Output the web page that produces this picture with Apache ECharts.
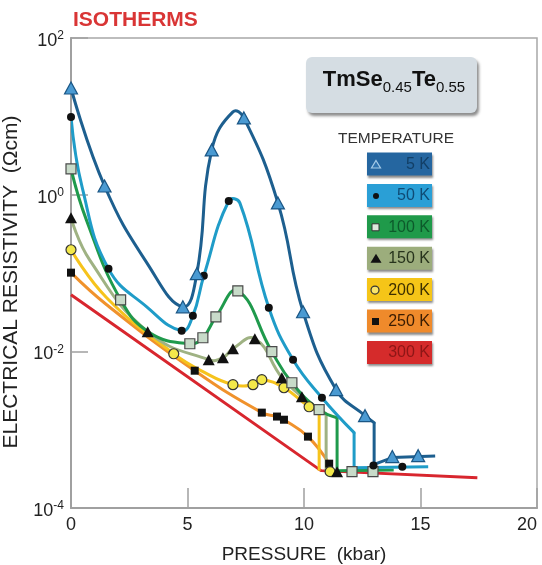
<!DOCTYPE html>
<html><head><meta charset="utf-8">
<script src="https://cdn.jsdelivr.net/npm/echarts@6/dist/echarts.min.js"></script>
<style>html,body{margin:0;padding:0;background:#fff}#c{width:542px;height:565px}</style>
</head><body><div id="c"></div>
<script>
// ---------- data (pressure kbar, resistivity ohm-cm) ----------
const temperatures = ['5 K', '50 K', '100 K', '150 K', '200 K', '250 K', '300 K'];
const xTicks = [0, 5, 10, 15, 20];
const yTicks = [1e-4, 1e-2, 1, 100];

const curve5K = [[0,23.0],[1.44,1.29],[3.29,0.13],[4.80,0.037],[5.40,0.098],[6.04,3.73],[6.95,11.4],[7.42,9.55],[8.88,0.785],[9.96,0.032],[11.38,0.00324],[12.62,0.00151],[13.01,0.00123]];
const step5K = [[13.01,0.00123],[13.01,0.00036],[13.79,0.00044],[15.63,0.00046]];
const marks5K = [[0,23.0],[1.44,1.29],[4.80,0.037],[5.40,0.098],[6.04,3.73],[7.42,9.55],[8.88,0.785],[9.96,0.032],[11.38,0.00324],[12.62,0.00151],[13.79,0.000453],[14.9,0.000466]];

const curve50K = [[0,9.8],[0.49,1.2],[1.61,0.113],[3.25,0.037],[4.75,0.0183],[5.23,0.0284],[5.70,0.092],[6.77,0.83],[7.25,0.78],[8.49,0.036],[9.53,0.00781],[10.77,0.00256],[12.15,0.000916]];
const step50K = [[12.15,0.000916],[12.15,0.000327],[15.33,0.000337]];
const marks50K = [[0,9.8],[1.61,0.113],[4.75,0.0183],[5.23,0.0284],[5.70,0.092],[6.77,0.83],[8.49,0.036],[9.53,0.00781],[10.77,0.00256],[12.98,0.00035],[14.22,0.000337]];

const curve100K = [[0,2.13],[0.66,0.477],[2.13,0.0455],[3.38,0.0173],[5.10,0.0125],[5.66,0.0149],[6.22,0.0276],[7.16,0.0593],[8.62,0.00989],[9.48,0.00397],[10.65,0.0018],[11.42,0.00142]];
const step100K = [[11.42,0.00142],[11.42,0.0003],[13.85,0.000305]];
const marks100K = [[0,2.13],[2.13,0.0455],[5.10,0.0125],[5.66,0.0149],[6.22,0.0276],[7.16,0.0593],[8.62,0.00989],[9.48,0.00397],[10.65,0.0018],[12.06,0.000291],[12.96,0.000291]];

const curve150K = [[0,0.506],[0.8,0.147],[3.29,0.0178],[5.91,0.00781],[6.52,0.00828],[6.95,0.0108],[7.89,0.0145],[9.05,0.00461],[9.91,0.00264],[10.95,0.0016]];
const step150K = [[10.95,0.0016],[10.95,0.0003]];
const marks150K = [[0,0.506],[3.29,0.0178],[5.91,0.00781],[6.52,0.00828],[6.95,0.0108],[7.89,0.0145],[9.05,0.00461],[9.91,0.00264],[11.42,0.000291]];

const curve200K = [[0,0.198],[1.53,0.0483],[4.41,0.00931],[5.66,0.0055],[6.95,0.00375],[7.81,0.00375],[8.19,0.00435],[9.14,0.00343],[10.22,0.00196],[10.65,0.0017]];
const step200K = [[10.65,0.0017],[10.65,0.0003]];
const marks200K = [[0,0.198],[4.41,0.00931],[6.95,0.00375],[7.81,0.00375],[8.19,0.00435],[9.14,0.00343],[10.22,0.00196],[11.12,0.000291]];

const curve250K = [[0,0.101],[1.53,0.0393],[5.31,0.00566],[8.19,0.00165],[8.84,0.00147],[9.14,0.00134],[10.17,0.000815],[11.08,0.000368]];
const step250K = [[11.08,0.000368],[11.2,0.0003]];
const marks250K = [[0,0.101],[5.31,0.00566],[8.19,0.00165],[8.84,0.00147],[9.14,0.00134],[10.17,0.000815],[11.08,0.000368]];

const line300K = [[0,0.0527],[10.73,0.0003],[17.44,0.000244]];

// ---------- styles ----------
const FONT = 'Liberation Sans, Arial, sans-serif';
const lineColors = ['#1d5f8f', '#1f9cc8', '#1f9a4c', '#9fb283', '#f6c31c', '#f0922c', '#d8262e'];
const boxColors  = ['#2566a0', '#2a9fd6', '#1f9a4a', '#9cad7c', '#f5c518', '#ef8a2b', '#d52b2b'];
const boxText    = ['#123f66', '#0f4b75', '#0d5a2b', '#27331c', '#3e3000', '#3a1c02', '#8e1616'];
const markStyle = [
  {symbol: 'triangle', size: [13, 12], fill: '#4a9ad2', border: '#1a5685', bw: 1.2},
  {symbol: 'circle', size: 8, fill: '#111', border: '#111', bw: 0},
  {symbol: 'rect', size: 10, fill: '#c8dbc9', border: '#4a4a4a', bw: 1.2},
  {symbol: 'triangle', size: [12, 11], fill: '#111', border: '#111', bw: 0},
  {symbol: 'circle', size: 10, fill: '#f3e84a', border: '#333', bw: 1.2},
  {symbol: 'rect', size: 8, fill: '#111', border: '#111', bw: 0}
];

const curves = [curve5K, curve50K, curve100K, curve150K, curve200K, curve250K];
const steps  = [step5K, step50K, step100K, step150K, step200K, step250K];
const marks  = [marks5K, marks50K, marks100K, marks150K, marks200K, marks250K];

// smooth curve through the read points, positioned with the chart's own scales (api.coord)
function curveSeries(name, data, color, z) {
  return {
    type: 'custom', name: name, data: data, z: z, silent: true, clip: true,
    encode: {x: 0, y: 1},
    renderItem: function (params, api) {
      if (params.dataIndex !== 0) return null;
      const pts = data.map(p => api.coord(p));
      return {type: 'polyline', shape: {points: pts, smooth: 0.45},
        style: {stroke: color, lineWidth: 3, fill: null, lineJoin: 'round', lineCap: 'round'}};
    }
  };
}

const series = [];
series.push({type: 'line', name: temperatures[6], data: line300K, showSymbol: false, smooth: false,
  lineStyle: {color: lineColors[6], width: 3}, z: 1, silent: true});
for (let i = 5; i >= 0; i--) {
  series.push(curveSeries(temperatures[i], curves[i], lineColors[i], 2 + (6 - i)));
  series.push({type: 'line', name: temperatures[i] + ' step', data: steps[i], showSymbol: false, smooth: false,
    lineStyle: {color: lineColors[i], width: 3, join: 'round'}, z: 2 + (6 - i), silent: true});
}
for (let i = 5; i >= 0; i--) {
  const m = markStyle[i];
  series.push({type: 'scatter', name: temperatures[i] + ' pts', data: marks[i], symbol: m.symbol, symbolSize: m.size,
    itemStyle: {color: m.fill, borderColor: m.border, borderWidth: m.bw, opacity: 1}, z: 20, silent: true});
}

// ---------- legend / annotation graphics ----------
const graphics = [];
graphics.push({type: 'rect', shape: {x: 306, y: 57, width: 171, height: 56, r: 6},
  style: {fill: '#d5dde3', shadowColor: 'rgba(0,0,0,0.45)', shadowBlur: 3, shadowOffsetX: 2, shadowOffsetY: 3}});
graphics.push({type: 'text', x: 394, y: 80, style: {
  text: '{b|TmSe}{s|0.45}{b|Te}{s|0.55}', align: 'center', verticalAlign: 'middle', fill: '#111',
  rich: {b: {fontSize: 22, fontWeight: 'bold', fontFamily: FONT, lineHeight: 30, fill: '#111'},
         s: {fontSize: 15, fontFamily: FONT, lineHeight: 10, verticalAlign: 'bottom', fill: '#111'}}}});
graphics.push({type: 'text', x: 396, y: 139, style: {text: 'TEMPERATURE', align: 'center', verticalAlign: 'middle',
  fontSize: 15.5, fontFamily: FONT, fill: '#333'}});

for (let i = 0; i < 7; i++) {
  const top = 152.5 + i * 31.4;
  graphics.push({type: 'rect', shape: {x: 367, y: top, width: 65, height: 23},
    style: {fill: boxColors[i], shadowColor: 'rgba(0,0,0,0.45)', shadowBlur: 2, shadowOffsetX: 1, shadowOffsetY: 2}});
  graphics.push({type: 'text', x: 430, y: top + 12, style: {text: temperatures[i], align: 'right', verticalAlign: 'middle',
    fontSize: 16, fontFamily: FONT, fill: boxText[i]}});
  const cx = 376, cy = top + 12;
  if (i === 0) graphics.push({type: 'polygon', shape: {points: [[cx, cy - 4], [cx + 4.5, cy + 3.5], [cx - 4.5, cy + 3.5]]},
    style: {fill: '#2f72ad', stroke: '#a5cbe8', lineWidth: 1.2}});
  if (i === 1) graphics.push({type: 'circle', shape: {cx: cx, cy: cy, r: 3}, style: {fill: '#111'}});
  if (i === 2) graphics.push({type: 'rect', shape: {x: cx - 4, y: cy - 3.5, width: 7, height: 7}, style: {fill: '#dde8dd', stroke: '#333', lineWidth: 1}});
  if (i === 3) graphics.push({type: 'polygon', shape: {points: [[cx, cy - 5], [cx + 5.5, cy + 4], [cx - 5.5, cy + 4]]}, style: {fill: '#111'}});
  if (i === 4) graphics.push({type: 'circle', shape: {cx: cx - 1, cy: cy, r: 4}, style: {fill: '#f8e46a', stroke: '#333', lineWidth: 1.2}});
  if (i === 5) graphics.push({type: 'rect', shape: {x: cx - 4, y: cy - 3.5, width: 7, height: 7}, style: {fill: '#111'}});
}

const chart = echarts.init(document.getElementById('c'), null, {renderer: 'canvas'});
chart.setOption({
  animation: false,
  backgroundColor: '#fff',
  textStyle: {fontFamily: FONT},
  title: {text: 'ISOTHERMS', left: 68, top: 5,
    textStyle: {color: '#d93535', fontSize: 21, fontWeight: 'bold', fontFamily: FONT}},
  grid: {left: 71, right: 5, top: 38, bottom: 57, outerBoundsMode: 'none', containLabel: false,
    show: true, borderColor: '#a8a8a8', borderWidth: 1.5, backgroundColor: 'transparent'},
  xAxis: {
    type: 'value', min: xTicks[0], max: xTicks[xTicks.length - 1], interval: 5,
    name: 'PRESSURE  (kbar)', nameLocation: 'middle', nameGap: 37,
    nameTextStyle: {fontSize: 19, color: '#222', fontFamily: FONT},
    axisLine: {lineStyle: {color: '#a0a0a0', width: 2}},
    axisTick: {inside: true, length: 20, lineStyle: {color: '#a0a0a0', width: 1.5}},
    splitLine: {show: false},
    axisLabel: {fontSize: 18, color: '#222', margin: 8, fontFamily: FONT, alignMaxLabel: 'right',
      formatter: v => xTicks.includes(v) ? String(v) : ''}
  },
  yAxis: {
    type: 'log', logBase: 100, min: yTicks[0], max: yTicks[yTicks.length - 1],
    name: 'ELECTRICAL RESISTIVITY  (Ωcm)', nameLocation: 'middle', nameGap: 49,
    nameTextStyle: {fontSize: 21, color: '#222', fontFamily: FONT, padding: [0, 18, 0, 0]},
    axisLine: {lineStyle: {color: '#a0a0a0', width: 2}},
    axisTick: {inside: true, length: 17, lineStyle: {color: '#a0a0a0', width: 1.5}},
    splitLine: {show: false},
    axisLabel: {margin: 7, padding: [6, 0, 0, 0],
      formatter: v => '{a|10}{b|' + Math.round(Math.log10(v)) + '}',
      rich: {a: {fontSize: 18, lineHeight: 22, color: '#222', fontFamily: FONT},
             b: {fontSize: 12, lineHeight: 12, verticalAlign: 'top', color: '#222', fontFamily: FONT}}}
  },
  graphic: graphics,
  series: series
});
</script></body></html>
